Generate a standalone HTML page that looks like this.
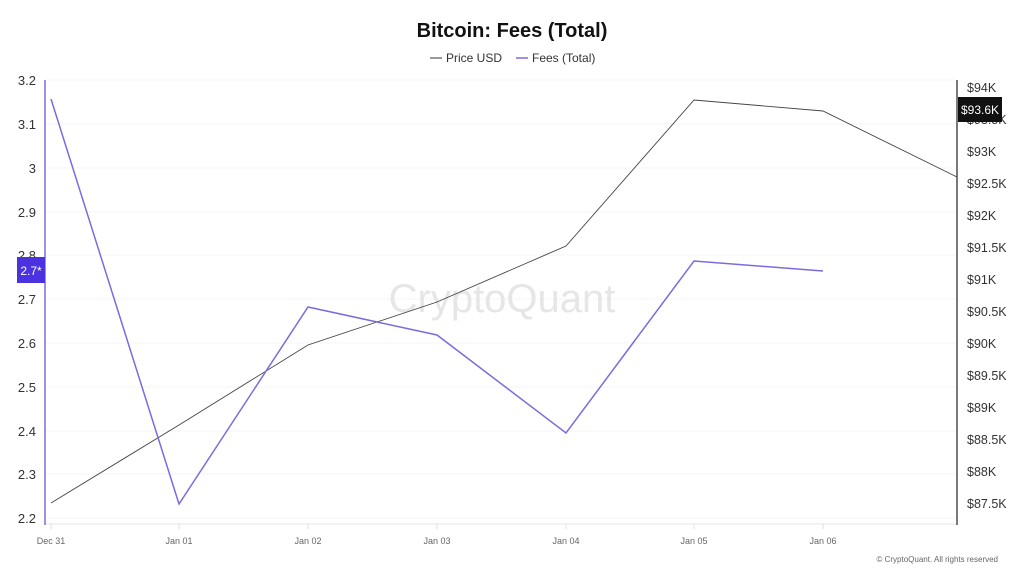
<!DOCTYPE html>
<html><head><meta charset="utf-8"><style>
html,body{margin:0;padding:0;background:#fff;}
svg{display:block;font-family:"Liberation Sans",sans-serif;}
</style></head><body>
<svg width="1024" height="576" viewBox="0 0 1024 576" xmlns="http://www.w3.org/2000/svg">
<rect width="1024" height="576" fill="#fff"/>
<text x="512" y="37" text-anchor="middle" font-size="20" font-weight="bold" fill="#111">Bitcoin: Fees (Total)</text>
<line x1="430" y1="58" x2="442" y2="58" stroke="#555" stroke-width="1.2"/>
<text x="446" y="62" font-size="12" fill="#333">Price USD</text>
<line x1="516" y1="58" x2="528" y2="58" stroke="#7b6be0" stroke-width="1.5"/>
<text x="532" y="62" font-size="12" fill="#333">Fees (Total)</text>
<g stroke="#f4f4f4" stroke-width="1">
<line x1="46" y1="80" x2="956" y2="80"/><line x1="46" y1="124" x2="956" y2="124"/>
<line x1="46" y1="168" x2="956" y2="168"/><line x1="46" y1="212" x2="956" y2="212"/>
<line x1="46" y1="255" x2="956" y2="255"/><line x1="46" y1="299" x2="956" y2="299"/>
<line x1="46" y1="343" x2="956" y2="343"/><line x1="46" y1="387" x2="956" y2="387"/>
<line x1="46" y1="431" x2="956" y2="431"/><line x1="46" y1="474" x2="956" y2="474"/>
<line x1="46" y1="518" x2="956" y2="518"/>
</g>
<line x1="46" y1="524" x2="956" y2="524" stroke="#e6e6e6"/>
<g stroke="#ddd"><line x1="51" y1="524" x2="51" y2="529"/><line x1="179" y1="524" x2="179" y2="529"/><line x1="308" y1="524" x2="308" y2="529"/><line x1="437" y1="524" x2="437" y2="529"/><line x1="566" y1="524" x2="566" y2="529"/><line x1="694" y1="524" x2="694" y2="529"/><line x1="823" y1="524" x2="823" y2="529"/></g>
<line x1="45" y1="80" x2="45" y2="525" stroke="#7b6be0" stroke-width="1.5"/>
<line x1="957" y1="80" x2="957" y2="525" stroke="#222" stroke-width="1.2"/>
<text x="502" y="312" text-anchor="middle" font-size="40" fill="#e6e6e6">CryptoQuant</text>
<g font-size="13" fill="#333" text-anchor="end">
<text x="36" y="85">3.2</text><text x="36" y="129">3.1</text><text x="36" y="173">3</text>
<text x="36" y="217">2.9</text><text x="36" y="260">2.8</text><text x="36" y="304">2.7</text>
<text x="36" y="348">2.6</text><text x="36" y="392">2.5</text><text x="36" y="436">2.4</text>
<text x="36" y="479">2.3</text><text x="36" y="523">2.2</text>
</g>
<g font-size="12.5" fill="#333">
<text x="967" y="92">$94K</text><text x="967" y="124">$93.5K</text><text x="967" y="156">$93K</text>
<text x="967" y="188">$92.5K</text><text x="967" y="220">$92K</text><text x="967" y="252">$91.5K</text>
<text x="967" y="284">$91K</text><text x="967" y="316">$90.5K</text><text x="967" y="348">$90K</text>
<text x="967" y="380">$89.5K</text><text x="967" y="412">$89K</text><text x="967" y="444">$88.5K</text>
<text x="967" y="476">$88K</text><text x="967" y="508">$87.5K</text>
</g>
<g font-size="9" fill="#666" text-anchor="middle">
<text x="51" y="544">Dec 31</text><text x="179" y="544">Jan 01</text><text x="308" y="544">Jan 02</text>
<text x="437" y="544">Jan 03</text><text x="566" y="544">Jan 04</text><text x="694" y="544">Jan 05</text>
<text x="823" y="544">Jan 06</text>
</g>
<text x="998" y="562" text-anchor="end" font-size="8" fill="#666">© CryptoQuant. All rights reserved</text>
<polyline fill="none" stroke="#444" stroke-width="0.9" points="51,503 179,425 308,345 437,302 566,246 694,100 823,111 957,177"/>
<polyline fill="none" stroke="#7b6be0" stroke-width="1.5" points="51,99 179,504 308,307 437,335 566,433 694,261 823,271"/>
<rect x="17" y="257" width="28" height="26" fill="#4a32e0"/>
<text x="31" y="275" text-anchor="middle" font-size="12" fill="#fff">2.7*</text>
<rect x="958" y="97" width="44" height="25" fill="#111"/>
<text x="980" y="114" text-anchor="middle" font-size="12" fill="#fff">$93.6K</text>
</svg>
</body></html>
